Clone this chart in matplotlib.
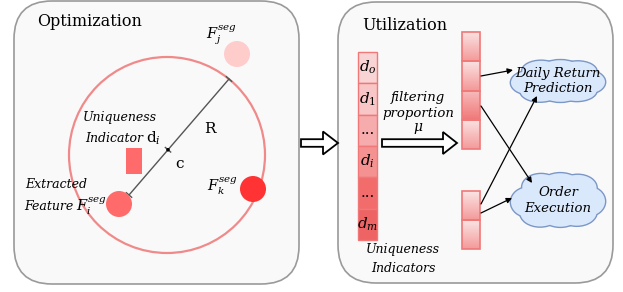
import matplotlib
matplotlib.use("Agg")
import matplotlib.pyplot as plt
import numpy as np
from matplotlib.patches import FancyBboxPatch, Circle, Rectangle, Ellipse, Polygon, FancyArrowPatch
from matplotlib.colors import LinearSegmentedColormap

plt.rcParams['font.family'] = ['DejaVu Serif']
plt.rcParams['mathtext.fontset'] = 'dejavuserif'

# ---- content ----
panel_titles = ["Optimization", "Utilization"]
indicator_labels = [r"$d_o$", r"$d_1$", "...", r"$d_i$", "...", r"$d_m$"]
indicator_colors = ["#f9d4d4", "#f8c6c6", "#f6acac", "#f49292", "#f26c6c", "#ee6363"]
upper_cells = 4
lower_cells = 2
task_labels = ["Daily Return\nPrediction", "Order\nExecution"]
feature_colors = {"i": "#ff6b6b", "j": "#ffcccc", "k": "#ff3333"}

W, H = 623, 292
fig = plt.figure(figsize=(W / 100, H / 100), dpi=100)
ax = fig.add_axes([0, 0, 1, 1])
ax.set_xlim(0, W)
ax.set_ylim(H, 0)
ax.axis('off')

# panels
for (x0, y0, x1, y1) in [(14, 1, 299, 284), (338, 2, 613, 283)]:
    ax.add_patch(FancyBboxPatch((x0, y0), x1 - x0, y1 - y0,
                                boxstyle="round,pad=0,rounding_size=38",
                                fc="#f9f9f9", ec="#9a9a9a", lw=1.2, zorder=1))

ax.text(37, 22, panel_titles[0], fontsize=11.5, ha='left', va='center', zorder=5)
ax.text(362, 25, panel_titles[1], fontsize=11.5, ha='left', va='center', zorder=5)

# ---- Optimization panel ----
cx, cy, R = 167, 155, 98
ax.add_patch(Circle((cx, cy), R, fc='none', ec="#f08a8a", lw=1.6, zorder=2))

# radius line
p0 = np.array([129, 195.0])
p1 = np.array([229, 79.0])
ax.plot([p0[0], p1[0]], [p0[1], p1[1]], color="#555555", lw=1.0, zorder=3)
d = (p1 - p0) / np.linalg.norm(p1 - p0)
n = np.array([-d[1], d[0]])
pc = p0 + d * (168 - p0[0]) / d[0]
for pt in (p0, p1, pc):
    a = pt - n * 3.5
    b = pt + n * 3.5
    ax.plot([a[0], b[0]], [a[1], b[1]], color="#555555", lw=1.0, zorder=3)
ax.add_patch(Circle(tuple(pc), 1.8, fc='black', ec='none', zorder=4))

ax.add_patch(Circle((237, 54), 13, fc=feature_colors["j"], ec='none', zorder=3))
ax.add_patch(Circle((253, 189), 13, fc=feature_colors["k"], ec='none', zorder=3))
ax.add_patch(Circle((119, 204), 13, fc=feature_colors["i"], ec='none', zorder=3))
ax.add_patch(Rectangle((126, 148), 16, 26, fc=feature_colors["i"], ec='none', zorder=3))

ax.text(210, 129, "R", fontsize=11, ha='center', va='center', zorder=5)
ax.text(180, 164, "c", fontsize=11, ha='center', va='center', zorder=5)
ax.text(83, 117, "Uniqueness", fontsize=9, style='italic', ha='left', va='center', zorder=5)
ax.text(85, 138, "Indicator", fontsize=9, style='italic', ha='left', va='center', zorder=5)
ax.text(146, 138, r"$\mathrm{d}_i$", fontsize=11, ha='left', va='center', zorder=5)
ax.text(25, 185, "Extracted", fontsize=9, style='italic', ha='left', va='center', zorder=5)
ax.text(24, 207, "Feature", fontsize=9, style='italic', ha='left', va='center', zorder=5)
ax.text(76, 206, r"$F_i^{seg}$", fontsize=10.5, ha='left', va='center', zorder=5)
ax.text(206, 35, r"$F_j^{seg}$", fontsize=10.5, ha='left', va='center', zorder=5)
ax.text(207, 186, r"$F_k^{seg}$", fontsize=10.5, ha='left', va='center', zorder=5)


def hollow_arrow(x0, x1, xh, yc, sh, hh):
    pts = [(x0, yc - sh), (xh, yc - sh), (xh, yc - hh), (x1, yc),
           (xh, yc + hh), (xh, yc + sh), (x0, yc + sh)]
    ax.add_patch(Polygon(pts, closed=True, fc='white', ec='black', lw=1.3, zorder=6))


hollow_arrow(301, 338, 323, 143, 3.8, 11.5)
hollow_arrow(382, 457, 443, 143, 3.8, 11)

# ---- Utilization panel ----
col_x, col_w, col_top, cell_h = 358, 19, 52, 31.3
for i, (lab, colr) in enumerate(zip(indicator_labels, indicator_colors)):
    y = col_top + i * cell_h
    ax.add_patch(Rectangle((col_x, y), col_w, cell_h, fc=colr, ec="#f07878", lw=1.0, zorder=3))
    ax.text(col_x + col_w / 2, y + cell_h / 2, lab, fontsize=11, ha='center', va='center', zorder=5)

ax.text(403, 249, "Uniqueness", fontsize=9, style='italic', ha='center', va='center', zorder=5)
ax.text(403, 268, "Indicators", fontsize=9, style='italic', ha='center', va='center', zorder=5)

ax.text(418, 98, "filtering", fontsize=9.5, style='italic', ha='center', va='center', zorder=5)
ax.text(418, 113, "proportion", fontsize=9.5, style='italic', ha='center', va='center', zorder=5)
ax.text(418, 128, r"$\mu$", fontsize=10, ha='center', va='center', zorder=5)

cmap = LinearSegmentedColormap.from_list("cellgrad", ["#fbe4e4", "#f49a9a"])
cmap_dark = LinearSegmentedColormap.from_list("cellgrad2", ["#f7bcbc", "#f07878"])
grad = np.linspace(0, 1, 64).reshape(-1, 1)


def grad_cell(x, y, w, h, cm):
    ax.imshow(grad, cmap=cm, extent=(x, x + w, y + h, y), aspect='auto', zorder=3,
              interpolation='bilinear')
    ax.add_patch(Rectangle((x, y), w, h, fc='none', ec="#f07878", lw=1.2, zorder=4))


mx, mw = 462, 18
up_top, up_h = 32, 29.25
for i in range(upper_cells):
    grad_cell(mx, up_top + i * up_h, mw, up_h, cmap_dark if i == 2 else cmap)
lo_top, lo_h = 191, 29
for i in range(lower_cells):
    grad_cell(mx, lo_top + i * lo_h, mw, lo_h, cmap)
ax.set_xlim(0, W)
ax.set_ylim(H, 0)


def cloud(cx, cy, w, h, text):
    bumps = [(0, 0, 0.80, 0.74), (-0.62, 0.08, 0.38, 0.55), (0.62, 0.05, 0.38, 0.55),
             (-0.36, -0.48, 0.4, 0.48), (0.05, -0.55, 0.42, 0.44), (0.42, -0.45, 0.4, 0.48),
             (-0.38, 0.48, 0.42, 0.5), (0.05, 0.55, 0.4, 0.44), (0.4, 0.45, 0.42, 0.5)]
    for lw, ec, z in [(2.0, "#7b97c6", 3), (0, "none", 3.5)]:
        for dx, dy, rx, ry in bumps:
            ax.add_patch(Ellipse((cx + dx * w / 2, cy + dy * h / 2), rx * w, ry * h,
                                 fc="#dae8fc", ec=ec, lw=lw, zorder=z))
    ax.text(cx, cy, text, fontsize=9.5, style='italic', ha='center', va='center',
            linespacing=1.3, zorder=5)


cloud(558, 81, 94, 42, task_labels[0])
cloud(558, 200, 94, 54, task_labels[1])

arrows = [((481, 76), (513, 70)), ((481, 106), (532, 183)),
          ((481, 204), (537, 96)), ((481, 213), (512, 198))]
for (a, b) in arrows:
    ax.add_patch(FancyArrowPatch(a, b, arrowstyle='-|>', mutation_scale=8,
                                 color='black', lw=0.9, shrinkA=0, shrinkB=0, zorder=6))

fig.savefig("out.png", dpi=100, facecolor='white')
